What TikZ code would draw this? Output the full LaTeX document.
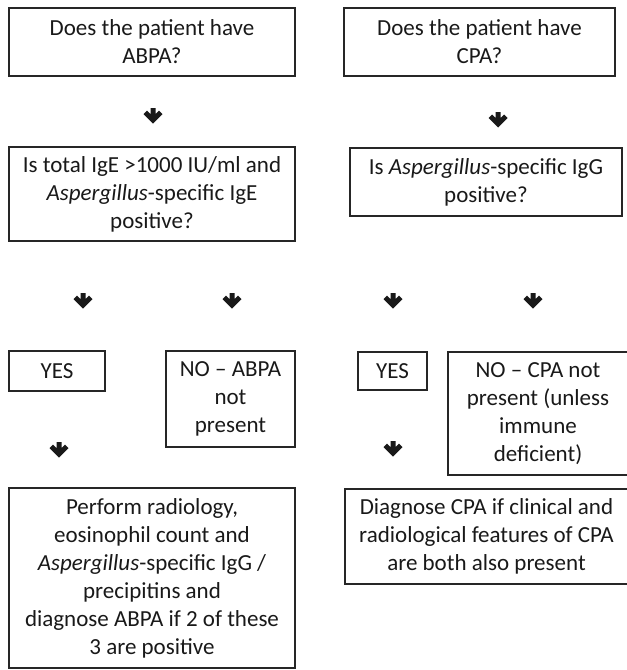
\documentclass[tikz,border=0pt]{standalone}
\usepackage{fontspec}
\setmainfont{Carlito}

\tikzset{
  qbox/.style={draw=black!85,line width=1.5pt,align=center,inner sep=0pt,
    text=black!90,font=\fontsize{23}{28}\selectfont},
  downarrow/.pic={
    \fill [black!90] (-2.5,0) -- (2.5,0) -- (2.5,6) -- (6,2.5) -- (9.5,6) -- (0,15.5)
      -- (-9.5,6) -- (-6,2.5) -- (-2.5,6) -- cycle;
  }
}

\begin{document}
\begin{tikzpicture}[x=1pt,y=-1pt]
  \useasboundingbox (0,0) rectangle (627,670);
  % ABPA side
  \node [qbox,minimum width=286,minimum height=68] (abpa) at (152,42) {Does the patient have\\ABPA?};
  \node [qbox,minimum width=286,minimum height=94] (ige) at (152,194) {Is total IgE >1000 IU/ml and\\\textit{Aspergillus}-specific IgE\\positive?};
  \node [qbox,minimum width=96,minimum height=40] (yesa) at (57,371) {YES};
  \node [qbox,minimum width=129,minimum height=96] (noa) at (230.5,399) {NO -- ABPA\\not\\present};
  \node [qbox,minimum width=286,minimum height=180] (perform) at (152,578) {Perform radiology,\\eosinophil count and\\\textit{Aspergillus}-specific IgG /\\precipitins and\\diagnose ABPA if 2 of these\\3 are positive};
  % CPA side
  \node [qbox,minimum width=271,minimum height=68] (cpa) at (479.5,42) {Does the patient have\\CPA?};
  \node [qbox,minimum width=272,minimum height=68] (igg) at (486,182) {Is \textit{Aspergillus}-specific IgG\\positive?};
  \node [qbox,minimum width=69,minimum height=38] (yesc) at (392.5,371) {YES};
  \node [qbox,minimum width=180,minimum height=123] (noc) at (538,413.5) {NO -- CPA not\\present (unless\\immune\\deficient)};
  \node [qbox,minimum width=283,minimum height=95] (diag) at (486.5,536.5) {Diagnose CPA if clinical and\\radiological features of CPA\\are both also present};
  % arrows
  \coordinate (a1) at (153,108);
  \coordinate (a2) at (498,112);
  \coordinate (a3) at (83,293);
  \coordinate (a4) at (232,293);
  \coordinate (a5) at (393,293);
  \coordinate (a6) at (533,293);
  \coordinate (a7) at (59,442);
  \coordinate (a8) at (393,441);
  \foreach \a in {a1,a2,a3,a4,a5,a6,a7,a8}
    \pic at (\a) {downarrow};
\end{tikzpicture}
\end{document}
